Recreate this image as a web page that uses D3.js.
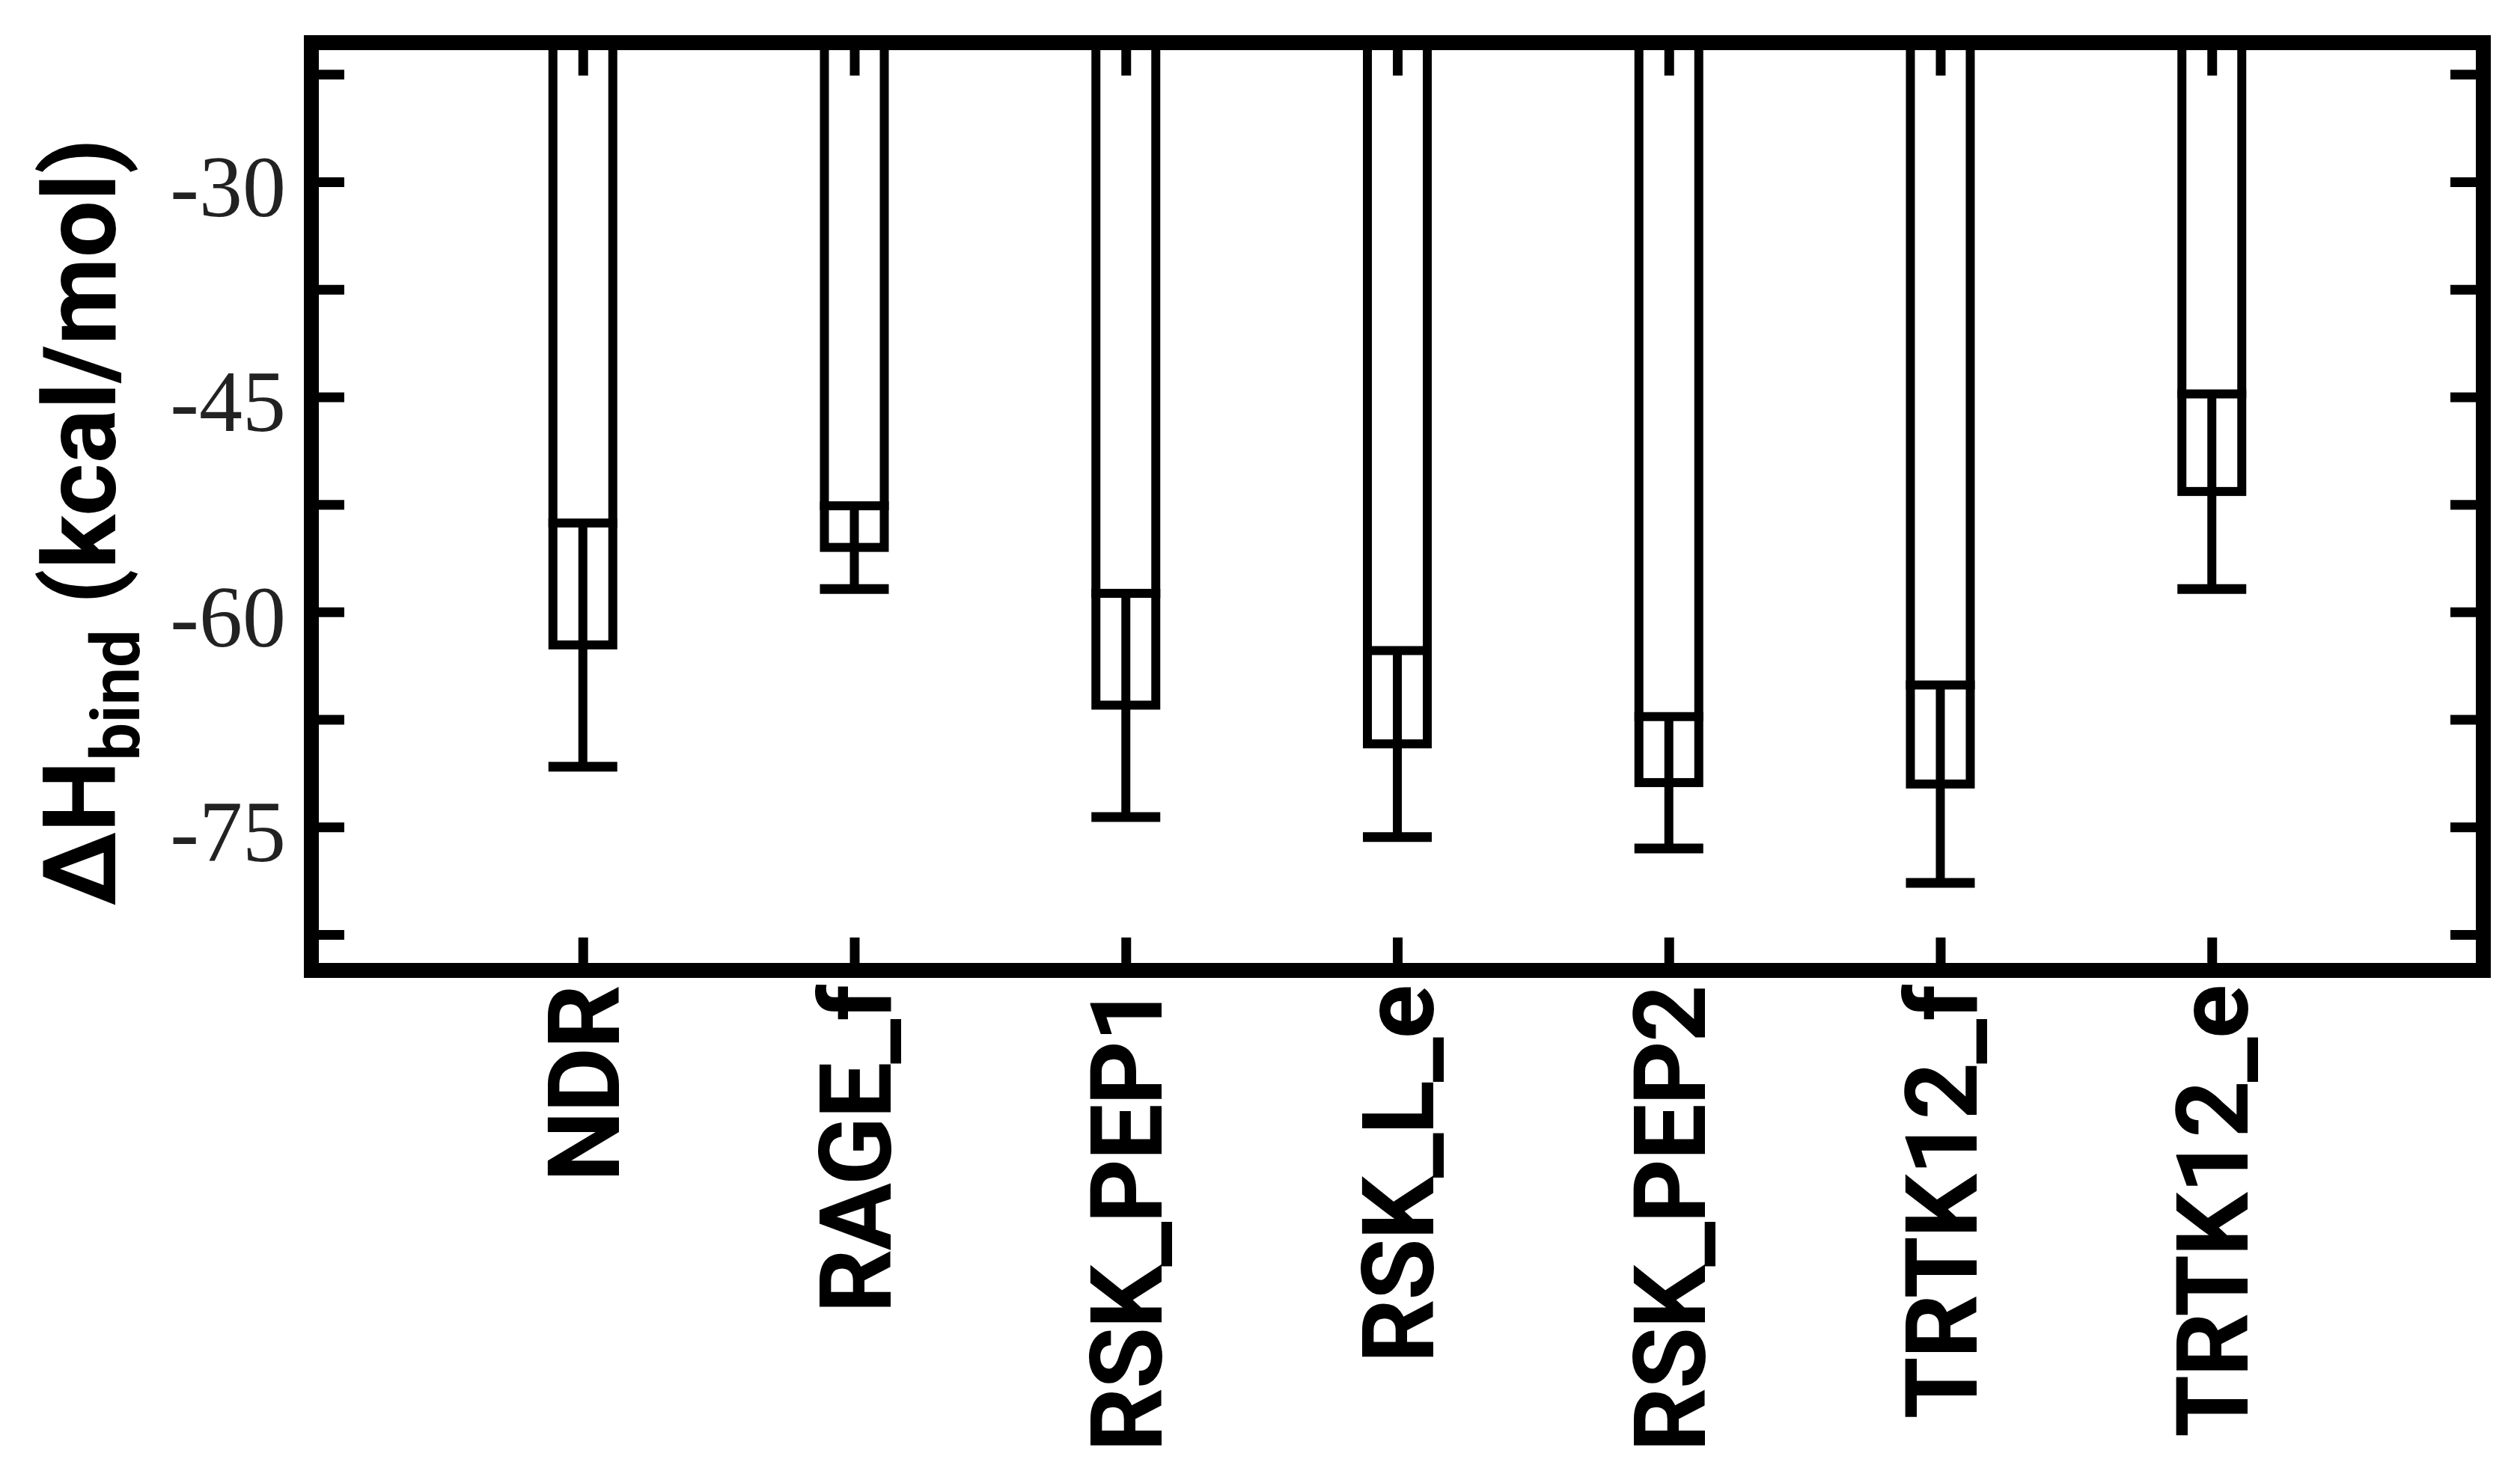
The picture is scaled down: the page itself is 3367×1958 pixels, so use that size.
<!DOCTYPE html>
<html>
<head>
<meta charset="utf-8">
<script src="https://cdn.jsdelivr.net/npm/d3@7"></script>
<style>
  html, body { margin: 0; padding: 0; background: #ffffff; }
  svg { display: block; }
</style>
</head>
<body>
<script>
// ---- data ----
const categories = ["NDR", "RAGE_f", "RSK_PEP1", "RSK_L_e", "RSK_PEP2", "TRTK12_f", "TRTK12_e"];
const meanValues = [-62.3, -55.5, -66.5, -69.2, -71.9, -72.0, -51.6];
const errorValues = [8.5, 2.9, 7.8, 6.5, 4.6, 6.9, 6.8];
const yTickLabels = [-30, -45, -60, -75];
const yMinorTicks = [-22.5, -37.5, -52.5, -67.5, -82.5];
const yDomain = [-85, -20.3];
const yTitleMain = "ΔH";
const yTitleSub = "bind";
const yTitleUnit = " (kcal/mol)";

(function () {
// ---- layout ----
const W = 3367, H = 1958;
const pLeft = 416, pRight = 3318, pTop = 57, pBottom = 1297;
const frameW = 20, tickLen = 44, tickW = 13;
const barHalf = 40, barStroke = 12, capHalf = 46;

const svg = d3.select("body").append("svg")
  .attr("width", W).attr("height", H);

const x = d3.scaleLinear().domain([0, categories.length + 1]).range([pLeft, pRight]);
const y = d3.scaleLinear().domain(yDomain).range([pBottom, pTop]);

const data = categories.map((c, i) => ({ c, pos: i + 1, m: meanValues[i], e: errorValues[i] }));

// ---- bars ----
const g = svg.append("g");
g.selectAll("rect.bar").data(data).enter().append("rect")
  .attr("class", "bar")
  .attr("x", d => x(d.pos) - barHalf)
  .attr("width", 2 * barHalf)
  .attr("y", y(yDomain[1]))
  .attr("height", d => y(d.m) - y(yDomain[1]))
  .attr("fill", "none")
  .attr("stroke", "#000")
  .attr("stroke-width", barStroke);

// error bars
g.selectAll("line.err").data(data).enter().append("line")
  .attr("x1", d => x(d.pos)).attr("x2", d => x(d.pos))
  .attr("y1", d => y(d.m + d.e)).attr("y2", d => y(d.m - d.e))
  .attr("stroke", "#000").attr("stroke-width", barStroke);
g.selectAll("line.capHi").data(data).enter().append("line")
  .attr("x1", d => x(d.pos) - capHalf).attr("x2", d => x(d.pos) + capHalf)
  .attr("y1", d => y(d.m + d.e)).attr("y2", d => y(d.m + d.e))
  .attr("stroke", "#000").attr("stroke-width", barStroke);
g.selectAll("line.capLo").data(data).enter().append("line")
  .attr("x1", d => x(d.pos) - capHalf).attr("x2", d => x(d.pos) + capHalf)
  .attr("y1", d => y(d.m - d.e)).attr("y2", d => y(d.m - d.e))
  .attr("stroke", "#000").attr("stroke-width", barStroke + 1);

// ---- axes ----
const allYTicks = yTickLabels.concat(yMinorTicks).sort((a, b) => a - b);

const yAxisL = d3.axisLeft(y).tickValues(allYTicks).tickSize(-tickLen).tickPadding(34)
  .tickFormat(d => yTickLabels.includes(d) ? String(d) : "");
const yAxisR = d3.axisRight(y).tickValues(allYTicks).tickSize(-tickLen).tickFormat("");
const xAxisB = d3.axisBottom(x).tickValues(data.map(d => d.pos)).tickSize(-tickLen)
  .tickFormat((d, i) => categories[i]);
const xAxisT = d3.axisTop(x).tickValues(data.map(d => d.pos)).tickSize(-tickLen).tickFormat("");

function styleAxis(sel) {
  sel.select(".domain").remove();
  sel.selectAll(".tick line").attr("stroke", "#000").attr("stroke-width", tickW);
}

const gyl = svg.append("g").attr("transform", `translate(${pLeft},0)`).call(yAxisL).call(styleAxis);
gyl.selectAll(".tick text")
  .attr("font-family", "'Liberation Serif', 'Times New Roman', serif")
  .attr("font-size", 116)
  .attr("fill", "#222")
  .attr("dy", "0.39em");

svg.append("g").attr("transform", `translate(${pRight},0)`).call(yAxisR).call(styleAxis);
svg.append("g").attr("transform", `translate(0,${pTop})`).call(xAxisT).call(styleAxis);

const gxb = svg.append("g").attr("transform", `translate(0,${pBottom})`).call(xAxisB).call(styleAxis);
gxb.selectAll(".tick text")
  .attr("transform", "rotate(-90)")
  .attr("text-anchor", "end")
  .attr("x", -21).attr("y", 0).attr("dy", "0.355em")
  .attr("font-family", "Roboto, 'Liberation Sans', sans-serif")
  .attr("font-weight", "bold")
  .attr("font-size", 134)
  .attr("letter-spacing", "-2px")
  .attr("fill", "#000");

// ---- frame ----
svg.append("rect")
  .attr("x", pLeft).attr("y", pTop)
  .attr("width", pRight - pLeft).attr("height", pBottom - pTop)
  .attr("fill", "none").attr("stroke", "#000").attr("stroke-width", frameW);

// ---- y title ----
const title = svg.append("text")
  .attr("transform", `translate(154,${(183 + 1213) / 2}) rotate(-90)`)
  .attr("text-anchor", "middle")
  .attr("font-family", "Roboto, 'Liberation Sans', sans-serif")
  .attr("font-weight", "bold")
  .attr("font-size", 135)
  .attr("fill", "#000");
title.append("tspan").text(yTitleMain);
title.append("tspan").attr("font-size", 90).attr("dy", 32).text(yTitleSub);
title.append("tspan").attr("dy", -32).text(yTitleUnit);
})();
</script>
</body>
</html>
